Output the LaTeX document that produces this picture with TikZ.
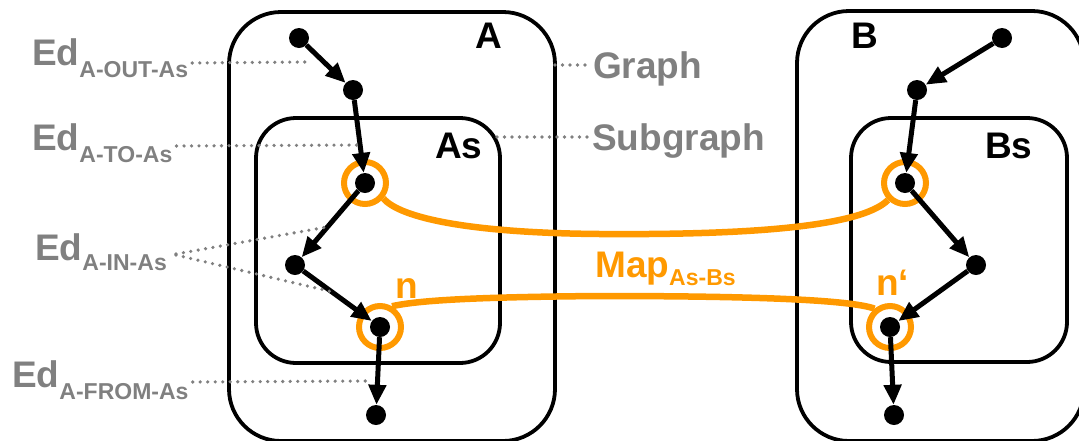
\documentclass[tikz,border=0pt]{standalone}
\usepackage{fontspec}
\setmainfont{Liberation Sans}
\usepackage{tikz}
\usetikzlibrary{arrows.meta}
\definecolor{mapc}{HTML}{FF9900}
\definecolor{notec}{HTML}{808080}
\tikzset{
  grp/.style   ={draw, line width=3.8pt, inner sep=0pt},
  dot/.style   ={circle, fill=black, inner sep=0pt, minimum size=20pt},
  ring/.style  ={circle, draw=mapc, line width=6pt, inner sep=0pt, minimum size=42pt},
  arc/.style   ={line width=5pt, -{Triangle[length=20pt,width=17pt]}},
  lead/.style  ={draw=notec, line width=3.6pt, line cap=round, dash pattern=on 0pt off 7.5pt},
  mapl/.style  ={draw=mapc, line width=6.5pt},
  big/.style   ={font=\bfseries\fontsize{37}{40}\selectfont, inner sep=0pt, anchor=base west},
  note/.style  ={big, text=notec},
  mapt/.style  ={big, text=mapc},
}
\newcommand{\lowsub}[2][12pt]{\raisebox{-#1}{\fontsize{23}{23}\selectfont #2}}

\begin{document}
\begin{tikzpicture}[x=1pt,y=-1pt]
  \useasboundingbox (0,0) rectangle (1079,440);
  % graphs and subgraphs
  \node[grp, rounded corners=52pt, minimum width=326pt, minimum height=429pt] (A) at (392,226.5) {};
  \node[grp, rounded corners=40pt, minimum width=244pt, minimum height=245pt] (As) at (378,240.5) {};
  \node[grp, rounded corners=52pt, minimum width=287pt, minimum height=430pt] (B) at (940.5,226) {};
  \node[grp, rounded corners=40pt, minimum width=216pt, minimum height=244pt] (Bs) at (959,240) {};
  \node[big] (lA) at (475,48) {A};
  \node[big] (lAs) at (435,158) {As};
  \node[big] (lB) at (851,48) {B};
  \node[big] (lBs) at (985,158) {Bs};

  % nodes
  \node[dot] (a1) at (299,38) {};
  \node[dot] (a2) at (353,90) {};
  \node[dot] (a3) at (365,183) {};
  \node[dot] (a4) at (295,265) {};
  \node[dot] (a5) at (380,327) {};
  \node[dot] (a6) at (376,415) {};
  \node[dot] (b1) at (1002,38) {};
  \node[dot] (b2) at (917,90) {};
  \node[dot] (b3) at (905,183) {};
  \node[dot] (b4) at (976,265) {};
  \node[dot] (b5) at (890,327) {};
  \node[dot] (b6) at (894,415) {};

  % mapping
  \node[ring] (ra3) at (a3) {};
  \node[ring] (ra5) at (a5) {};
  \node[ring] (rb3) at (b3) {};
  \node[ring] (rb5) at (b5) {};
  \draw[mapl] (ra3.-40) .. controls (400,218) and (470,233) .. (600,234)
                        .. controls (740,235) and (860,228) .. (rb3.-135);
  \draw[mapl] (ra5.60) .. controls (420,300) and (480,297) .. (600,296)
                       .. controls (760,296) and (850,300) .. (rb5.130);
  \node[mapt] (n) at (395,298) {n};
  \node[mapt] (n2) at (876,295) {n‘};
  \node[mapt] (map) at (595,277) {Map\lowsub[8pt]{As-Bs}};

  % edges
  \foreach \s/\t in {a1/a2,a2/a3,a3/a4,a4/a5,a5/a6,b1/b2,b2/b3,b3/b4,b4/b5,b5/b6}
    \draw[arc] (\s) -- (\t);

  % annotations
  \node[note] (out) at (32,65) {Ed\lowsub{A-OUT-As}};
  \node[note] (to) at (32,150) {Ed\lowsub{A-TO-As}};
  \node[note] (in) at (35,260) {Ed\lowsub[10pt]{A-IN-As}};
  \node[note] (from) at (12,387) {Ed\lowsub{A-FROM-As}};
  \node[note] (graph) at (593,78) {Graph};
  \node[note] (sub) at (592,150) {Subgraph};
  \coordinate (eout) at (305,62);
  \coordinate (eto) at (360,145);
  \coordinate (ein1) at (327,227);
  \coordinate (ein2) at (333,292);
  \coordinate (efrom) at (366,381);
  \coordinate (egraph) at (555,65);
  \coordinate (esub) at (497,137);
  \draw[lead] ([shift={(4pt,2pt)}]out.base east) -- (eout);
  \draw[lead] ([shift={(4pt,4pt)}]to.base east) -- (eto);
  \draw[lead] ([shift={(9pt,6pt)}]in.base east) -- (ein1);
  \draw[lead] ([shift={(9pt,5pt)}]in.base east) -- (ein2);
  \draw[lead] ([shift={(4pt,5pt)}]from.base east) -- (efrom);
  \draw[lead] (egraph) -- ([shift={(-1pt,13pt)}]graph.base west);
  \draw[lead] (esub) -- ([shift={(0pt,13pt)}]sub.base west);
\end{tikzpicture}
\end{document}
